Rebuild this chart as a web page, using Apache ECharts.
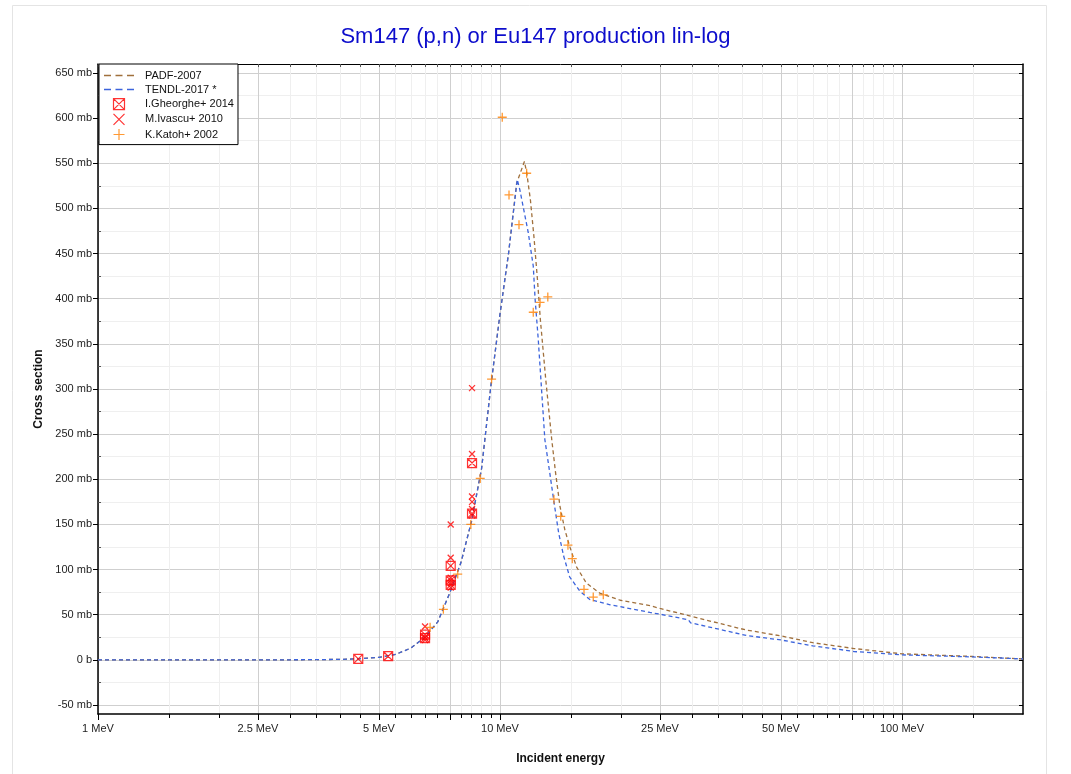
<!DOCTYPE html>
<html><head><meta charset="utf-8">
<script src="https://cdn.jsdelivr.net/npm/echarts@6/dist/echarts.min.js"></script>
<style>html,body{margin:0;padding:0;background:#fff}#c{width:1071px;height:774px}</style>
</head><body><div id="c"></div>
<script>
// ---- data (energy in MeV, cross section in mb) ----
const padfE  = [1, 2, 3, 3.5, 4, 4.5, 5, 5.5, 6, 6.5, 7, 7.5, 8, 8.5, 9, 9.5, 10, 10.5, 11, 11.5, 11.65, 11.9, 12.15, 12.4, 12.6, 13.0, 13.45, 13.75, 14.1, 14.5, 14.9, 15.5, 16.4, 17.7, 19.9, 23.6, 25, 30, 41, 50, 60, 76, 100, 150, 200];
const padfXS = [0, 0, 0.05, 0.2, 0.5, 1.3, 2.8, 6, 13, 25, 42, 74, 108, 154, 212, 305, 383, 450, 528, 552, 540, 510, 468, 420, 377, 310, 244, 207, 170, 144, 126, 103, 85, 74, 66, 60, 57, 48, 33, 26.5, 19, 12.5, 6.7, 3.7, 1];
const tendlE  = [1, 2, 3, 3.5, 4, 4.5, 5, 5.5, 6, 6.5, 7, 7.5, 8, 8.5, 9, 9.5, 10, 10.5, 11.04, 11.2, 11.76, 12.1, 12.23, 12.45, 12.93, 13.3, 13.6, 14.0, 14.4, 14.9, 15.8, 16.7, 18.8, 23.6, 25, 29.4, 29.8, 41, 50, 60, 76, 100, 150, 200];
const tendlXS = [0, 0, 0.05, 0.2, 0.5, 1.3, 2.8, 6, 13, 25, 42, 74, 108, 154, 212, 305, 383, 450, 532, 521, 473, 436, 399, 355, 244, 207, 177, 140, 115, 92, 76, 67, 61, 52.5, 50.6, 44.4, 41, 27, 22, 15.5, 9.2, 5.5, 3.2, 1];
const gheorgheE  = [4.44, 5.27, 6.51, 6.51, 7.54, 7.54, 7.54, 8.52, 8.52];
const gheorgheXS = [1, 4, 28, 24, 104, 88, 83, 218, 162];
const ivascuE  = [6.51, 6.51, 6.51, 7.54, 7.54, 7.54, 7.54, 7.54, 8.52, 8.52, 8.52, 8.52, 8.52, 8.52];
const ivascuXS = [37, 25, 22, 150, 113, 91, 85, 80, 301, 228, 181, 175, 167, 160];
const katohE  = [6.7, 7.23, 7.85, 8.46, 8.93, 9.53, 10.13, 10.53, 11.15, 11.65, 12.1, 12.58, 13.15, 13.62, 14.16, 14.76, 15.13, 16.18, 17.06, 18.07];
const katohXS = [36, 56, 95, 150, 201, 311, 601, 515, 482, 539, 385, 396, 402, 178, 159, 127, 112, 78, 69.5, 72];
const xMajorTicks = [1, 2.5, 5, 7.5, 10, 25, 50, 75, 100];
const xLabelValues = [1, 2.5, 5, 10, 25, 50, 100];
const xMinorTicks = [1.5, 2, 3, 3.5, 4, 4.5, 5.5, 6, 6.5, 7, 8, 8.5, 9, 9.5, 15, 20, 30, 35, 40, 45, 55, 60, 65, 70, 80, 85, 90, 95, 150];
const yMajorTicks = [-50, 0, 50, 100, 150, 200, 250, 300, 350, 400, 450, 500, 550, 600, 650];
const yMinorTicks = [-25, 25, 75, 125, 175, 225, 275, 325, 375, 425, 475, 525, 575, 625];

const zip = (a, b) => a.map((v, i) => [v, b[i]]);
const FONT = 'Liberation Sans, Arial, sans-serif';

const boxX = 'path://M0 0H10V10H0Z M0 0L10 10 M10 0L0 10';
const cross = 'path://M0 0L10 10 M10 0L0 10';
const plus = 'path://M5 0V10 M0 5H10';
const dashIcon = 'path://M0 0H7V1.4H0Z M11.5 0H18.5V1.4H11.5Z M23 0H30V1.4H23Z';

const chart = echarts.init(document.getElementById('c'), null, {renderer: 'canvas'});
chart.setOption({
  animation: false,
  backgroundColor: '#fff',
  title: {
    text: 'Sm147 (p,n) or Eu147 production lin-log',
    left: 'center', top: 21,
    textStyle: {color: '#0d0dcc', fontSize: 22, fontWeight: 'normal', fontFamily: FONT}
  },
  graphic: [{
    type: 'rect', silent: true, z: -10,
    shape: {x: 12.5, y: 5.5, width: 1034, height: 800},
    style: {fill: 'none', stroke: '#e4e4e4', lineWidth: 1}
  }],
  legend: {
    orient: 'vertical', left: 99, top: 64,
    padding: [6, 4, 4, 5], itemGap: 3, itemWidth: 30, itemHeight: 11,
    backgroundColor: '#fff', borderColor: '#000', borderWidth: 1, borderRadius: 0,
    textStyle: {fontSize: 11, color: '#111', fontFamily: FONT, padding: [0, 0, 0, 6]},
    data: [
      {name: 'PADF-2007', icon: dashIcon},
      {name: 'TENDL-2017 *', icon: dashIcon},
      {name: 'I.Gheorghe+ 2014', itemStyle: {borderWidth: 1.2}},
      {name: 'M.Ivascu+ 2010', itemStyle: {borderWidth: 1.2}},
      {name: 'K.Katoh+ 2002', itemStyle: {borderWidth: 1.2}}
    ]
  },
  grid: {left: 98, right: 48, top: 64, bottom: 60, outerBoundsMode: 'none'},
  xAxis: [{
    type: 'log', min: 1, max: 200, position: 'bottom',
    name: 'Incident energy', nameLocation: 'middle', nameGap: 39,
    nameTextStyle: {fontSize: 12, fontWeight: 'bold', color: '#111', fontFamily: FONT},
    axisLine: {show: true, onZero: false, lineStyle: {color: '#000', width: 1.5}},
    axisTick: {show: true, length: 6, customValues: xMajorTicks, lineStyle: {color: '#000'}},
    axisLabel: {customValues: xLabelValues, margin: 9, fontSize: 11, color: '#222', fontFamily: FONT,
      formatter: v => v + ' MeV'},
    splitLine: {show: true, lineStyle: {color: '#cfcfcf', width: 1}},
    minorTick: {show: false}, minorSplitLine: {show: false}
  }, {
    type: 'log', min: 1, max: 200, position: 'bottom',
    axisLine: {show: false, onZero: false},
    axisTick: {show: true, length: 4, customValues: xMinorTicks, lineStyle: {color: '#000'}},
    axisLabel: {show: false},
    splitLine: {show: true, lineStyle: {color: '#efefef', width: 1}}
  }, {
    type: 'log', min: 1, max: 200, position: 'top',
    axisLine: {show: true, onZero: false, lineStyle: {color: '#000', width: 1}},
    axisTick: {show: true, inside: true, length: 3, customValues: xMajorTicks.concat(xMinorTicks), lineStyle: {color: '#555'}},
    axisLabel: {show: false},
    splitLine: {show: false}
  }],
  yAxis: [{
    type: 'value', min: -60, max: 660, position: 'left',
    name: 'Cross section', nameLocation: 'middle', nameGap: 53, nameRotate: 90,
    nameTextStyle: {fontSize: 12, fontWeight: 'bold', color: '#111', fontFamily: FONT},
    axisLine: {show: true, onZero: false, lineStyle: {color: '#000', width: 1.5}},
    axisTick: {show: true, length: 5, customValues: yMajorTicks, lineStyle: {color: '#000'}},
    axisLabel: {customValues: yMajorTicks, margin: 6, fontSize: 11, color: '#222', fontFamily: FONT,
      formatter: v => (v === 0 ? '0 b' : v + ' mb')},
    splitLine: {show: true, lineStyle: {color: '#cfcfcf', width: 1}}
  }, {
    type: 'value', min: -60, max: 660, position: 'left',
    axisLine: {show: false, onZero: false},
    axisTick: {show: true, inside: true, length: 3, customValues: yMinorTicks, lineStyle: {color: '#555'}},
    axisLabel: {show: false},
    splitLine: {show: true, lineStyle: {color: '#efefef', width: 1}}
  }, {
    type: 'value', min: -60, max: 660, position: 'right',
    axisLine: {show: true, onZero: false, lineStyle: {color: '#000', width: 1.5}},
    axisTick: {show: true, inside: true, length: 4, customValues: yMajorTicks, lineStyle: {color: '#000'}},
    axisLabel: {show: false},
    splitLine: {show: false}
  }],
  series: [{
    name: 'PADF-2007', type: 'line', xAxisIndex: 0, yAxisIndex: 0,
    data: zip(padfE, padfXS), showSymbol: false, symbol: 'none', z: 2,
    lineStyle: {color: '#a0703c', width: 1.3, type: [4, 3]}, itemStyle: {color: '#a0703c'}
  }, {
    name: 'TENDL-2017 *', type: 'line', xAxisIndex: 0, yAxisIndex: 0,
    data: zip(tendlE, tendlXS), showSymbol: false, symbol: 'none', z: 2,
    lineStyle: {color: '#3c64dc', width: 1.3, type: [4, 3]}, itemStyle: {color: '#3c64dc'}
  }, {
    name: 'I.Gheorghe+ 2014', type: 'scatter', xAxisIndex: 0, yAxisIndex: 0, z: 4,
    data: zip(gheorgheE, gheorgheXS), symbol: boxX, symbolSize: 9,
    itemStyle: {color: 'rgba(0,0,0,0)', borderColor: '#ff0000', borderWidth: 1.2}
  }, {
    name: 'M.Ivascu+ 2010', type: 'scatter', xAxisIndex: 0, yAxisIndex: 0, z: 4,
    data: zip(ivascuE, ivascuXS), symbol: cross, symbolSize: 6,
    itemStyle: {color: 'rgba(0,0,0,0)', borderColor: '#ff0000', borderWidth: 1.3}
  }, {
    name: 'K.Katoh+ 2002', type: 'scatter', xAxisIndex: 0, yAxisIndex: 0, z: 4,
    data: zip(katohE, katohXS), symbol: plus, symbolSize: 9,
    itemStyle: {color: 'rgba(0,0,0,0)', borderColor: '#ff7f00', borderWidth: 1.3}
  }]
});
</script></body></html>
